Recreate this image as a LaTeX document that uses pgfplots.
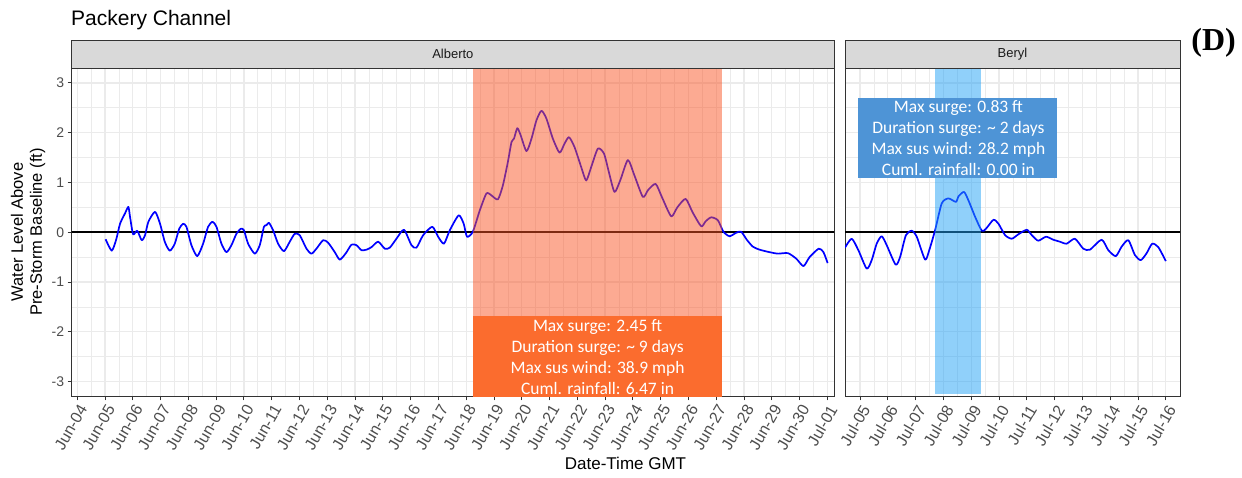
\documentclass[border=0pt]{standalone}
\usepackage{pgfplots}
\pgfplotsset{compat=1.18}
\usepackage{fontspec}
\setmainfont{Liberation Sans}
\newfontfamily\boxfont{Carlito}
\newfontfamily\dfont{Liberation Serif}
\definecolor{grey20}{HTML}{333333}
\definecolor{grey30}{HTML}{4D4D4D}
\definecolor{grey85}{HTML}{D9D9D9}
\definecolor{grey92}{HTML}{EBEBEB}
\definecolor{grey10}{HTML}{1A1A1A}
\definecolor{salmonC}{RGB}{249,85,37}
\definecolor{orangeBox}{RGB}{251,108,46}
\definecolor{lblue}{RGB}{33,161,245}
\definecolor{blueBox}{RGB}{78,148,214}
\pgfplotsset{
  panel/.style={
    scale only axis,
    anchor=south west,
    height=328.5pt,
    ymin=-3.3, ymax=3.3,
    ytick={-3,-2,-1,0,1,2,3},
    minor x tick num=1, minor y tick num=1,
    grid=both,
    major grid style={color=grey92, line width=1.2pt},
    minor grid style={color=grey92, line width=0.7pt},
    axis line style={grey20, line width=0.9pt},
    tick align=outside,
    tick pos=left,
    major tick length=4pt,
    minor tick length=0pt,
    tick style={grey20, line width=0.9pt},
    every tick label/.append style={text=grey30},
    xticklabel style={rotate=60, anchor=north east, inner sep=2pt, font=\fontsize{16}{16}\selectfont},
    yticklabel style={font=\fontsize{14}{14}\selectfont},
    /pgf/number format/assume math mode=true,
    every axis plot/.append style={line join=round},
  }
}
\begin{document}
\begin{tikzpicture}[x=1pt,y=1pt]
\path[use as bounding box] (0,0) rectangle (1242,478);
% left panel
\begin{axis}[panel, at={(71.7pt,81.5pt)}, width=762.3pt,
  xmin=-0.2, xmax=27.24,
  xtick={0,1,...,27},
  xticklabels={Jun-04,Jun-05,Jun-06,Jun-07,Jun-08,Jun-09,Jun-10,Jun-11,Jun-12,Jun-13,Jun-14,Jun-15,Jun-16,Jun-17,Jun-18,Jun-19,Jun-20,Jun-21,Jun-22,Jun-23,Jun-24,Jun-25,Jun-26,Jun-27,Jun-28,Jun-29,Jun-30,Jul-01},
]
\addplot[black, line width=1.5pt] coordinates {(-1,0) (29,0)};
\addplot[blue, line width=1.7pt, smooth, tension=0.4] coordinates {
(1.02,-0.14) (1.24,-0.37) (1.40,-0.15) (1.54,0.17) (1.72,0.38) (1.84,0.51) (1.90,0.31) (2.01,-0.04) (2.16,0.03) (2.32,-0.16) (2.44,-0.06) (2.56,0.21) (2.80,0.41) (2.98,0.17) (3.15,-0.19) (3.33,-0.37) (3.51,-0.23) (3.67,0.07) (3.81,0.17) (3.93,0.11) (4.11,-0.26) (4.32,-0.48) (4.53,-0.23) (4.71,0.11) (4.87,0.21) (5.01,0.11) (5.19,-0.23) (5.37,-0.40) (5.55,-0.26) (5.73,-0.03) (5.89,0.07) (6.00,0.04) (6.15,-0.23) (6.39,-0.43) (6.57,-0.26) (6.72,0.11) (6.81,0.14) (6.90,0.19) (7.05,0.04) (7.23,-0.23) (7.44,-0.38) (7.65,-0.19) (7.83,-0.03) (8.01,-0.06) (8.25,-0.33) (8.43,-0.43) (8.61,-0.33) (8.85,-0.16) (9.03,-0.21) (9.27,-0.40) (9.45,-0.55) (9.67,-0.42) (9.87,-0.25) (10.05,-0.26) (10.23,-0.36) (10.41,-0.35) (10.59,-0.30) (10.83,-0.19) (11.07,-0.33) (11.25,-0.31) (11.49,-0.13) (11.76,0.05) (12.03,-0.26) (12.21,-0.31) (12.45,-0.06) (12.78,0.11) (12.99,-0.09) (13.20,-0.23) (13.41,0.04) (13.73,0.34) (13.91,0.17) (14.03,-0.09) (14.24,0.01) (14.49,0.44) (14.73,0.78) (14.91,0.74) (15.14,0.66) (15.32,0.94) (15.50,1.41) (15.63,1.81) (15.72,1.88) (15.84,2.09) (15.96,1.95) (16.17,1.63) (16.35,1.88) (16.53,2.25) (16.71,2.44) (16.89,2.28) (17.12,1.88) (17.36,1.60) (17.54,1.78) (17.70,1.91) (17.90,1.71) (18.14,1.31) (18.32,1.04) (18.50,1.31) (18.74,1.68) (18.96,1.58) (19.14,1.20) (19.34,0.81) (19.55,1.05) (19.82,1.45) (20.05,1.15) (20.36,0.71) (20.55,0.85) (20.82,0.97) (21.05,0.70) (21.38,0.32) (21.60,0.50) (21.90,0.67) (22.15,0.40) (22.46,0.12) (22.62,0.22) (22.82,0.30) (23.06,0.24) (23.26,0.01) (23.48,-0.08) (23.72,-0.01) (23.90,0.01) (24.10,-0.15) (24.32,-0.29) (24.56,-0.35) (24.92,-0.40) (25.22,-0.43) (25.58,-0.42) (25.88,-0.53) (26.14,-0.68) (26.36,-0.50) (26.69,-0.33) (26.86,-0.40) (27.01,-0.62)
};
\addplot[draw=none, fill=salmonC, fill opacity=0.5] coordinates {(14.24,-3.4) (23.22,-3.4) (23.22,3.4) (14.24,3.4)} -- cycle;
\addplot[draw=none, fill=orangeBox] coordinates {(14.24,-3.4) (23.22,-3.4) (23.22,-1.69) (14.24,-1.69)} -- cycle;
\node[align=center, text=white, font=\boxfont\fontsize{17.5}{21}\selectfont] at (axis cs:18.73,-2.5) {Max surge: 2.45 ft\\Duration surge: \textasciitilde\ 9 days\\Max sus wind: 38.9 mph\\Cuml. rainfall: 6.47 in};
\end{axis}
% right panel
\begin{axis}[panel, at={(845pt,81.5pt)}, width=335pt,
  xmin=4.46, xmax=16.51,
  xtick={5,6,...,16},
  xticklabels={Jul-05,Jul-06,Jul-07,Jul-08,Jul-09,Jul-10,Jul-11,Jul-12,Jul-13,Jul-14,Jul-15,Jul-16},
  yticklabels={},
  ytick style={draw=none},
]
\addplot[black, line width=1.5pt] coordinates {(3,0) (18,0)};
\addplot[blue, line width=1.7pt, smooth, tension=0.4] coordinates {
(4.46,-0.31) (4.70,-0.13) (4.94,-0.36) (5.24,-0.73) (5.42,-0.56) (5.60,-0.23) (5.78,-0.08) (5.96,-0.26) (6.28,-0.65) (6.44,-0.50) (6.65,-0.06) (6.86,0.03) (7.04,-0.09) (7.34,-0.55) (7.49,-0.36) (7.70,0.04) (7.94,0.58) (8.18,0.68) (8.45,0.61) (8.54,0.72) (8.74,0.81) (8.90,0.64) (9.14,0.31) (9.38,0.03) (9.53,0.07) (9.80,0.25) (9.98,0.17) (10.22,-0.06) (10.46,-0.13) (10.70,-0.04) (11.00,0.05) (11.18,-0.06) (11.41,-0.17) (11.69,-0.09) (11.95,-0.15) (12.19,-0.19) (12.43,-0.23) (12.73,-0.13) (13.03,-0.33) (13.27,-0.35) (13.69,-0.15) (13.93,-0.36) (14.20,-0.48) (14.41,-0.29) (14.65,-0.16) (14.89,-0.46) (15.10,-0.56) (15.31,-0.42) (15.51,-0.23) (15.73,-0.30) (16.00,-0.58)
};
\addplot[draw=none, fill=lblue, fill opacity=0.5] coordinates {(7.70,-3.25) (9.34,-3.25) (9.34,3.4) (7.70,3.4)} -- cycle;
\addplot[draw=none, fill=blueBox] coordinates {(4.94,1.08) (12.1,1.08) (12.1,2.70) (4.94,2.70)} -- cycle;
\node[align=center, text=white, font=\boxfont\fontsize{17.5}{21}\selectfont] at (axis cs:8.54,1.89) {Max surge: 0.83 ft\\Duration surge: \textasciitilde\ 2 days\\Max sus wind: 28.2 mph\\Cuml. rainfall: 0.00 in};
\end{axis}
% strips
\draw[fill=grey85, draw=grey20, line width=0.9pt] (71.7,410) rectangle (834,438);
\node[text=grey10, font=\fontsize{13}{13}\selectfont] at (452.85,424) {Alberto};
\draw[fill=grey85, draw=grey20, line width=0.9pt] (845,410) rectangle (1180,438);
\node[text=grey10, font=\fontsize{13}{13}\selectfont] at (1012.5,424) {Beryl};
% titles
\node[anchor=base west, font=\fontsize{21}{21}\selectfont, inner sep=0] at (71,452) {Packery Channel};
\node[anchor=base east, font=\dfont\bfseries\fontsize{32}{32}\selectfont, inner sep=0] at (1236,427) {(D)};
\node[anchor=base, font=\fontsize{17}{17}\selectfont, inner sep=0] at (625.5,8) {Date-Time GMT};
\node[rotate=90, align=center, font=\fontsize{16.5}{19}\selectfont] at (28,246) {Water Level Above\\Pre-Storm Baseline (ft)};
\end{tikzpicture}
\end{document}
